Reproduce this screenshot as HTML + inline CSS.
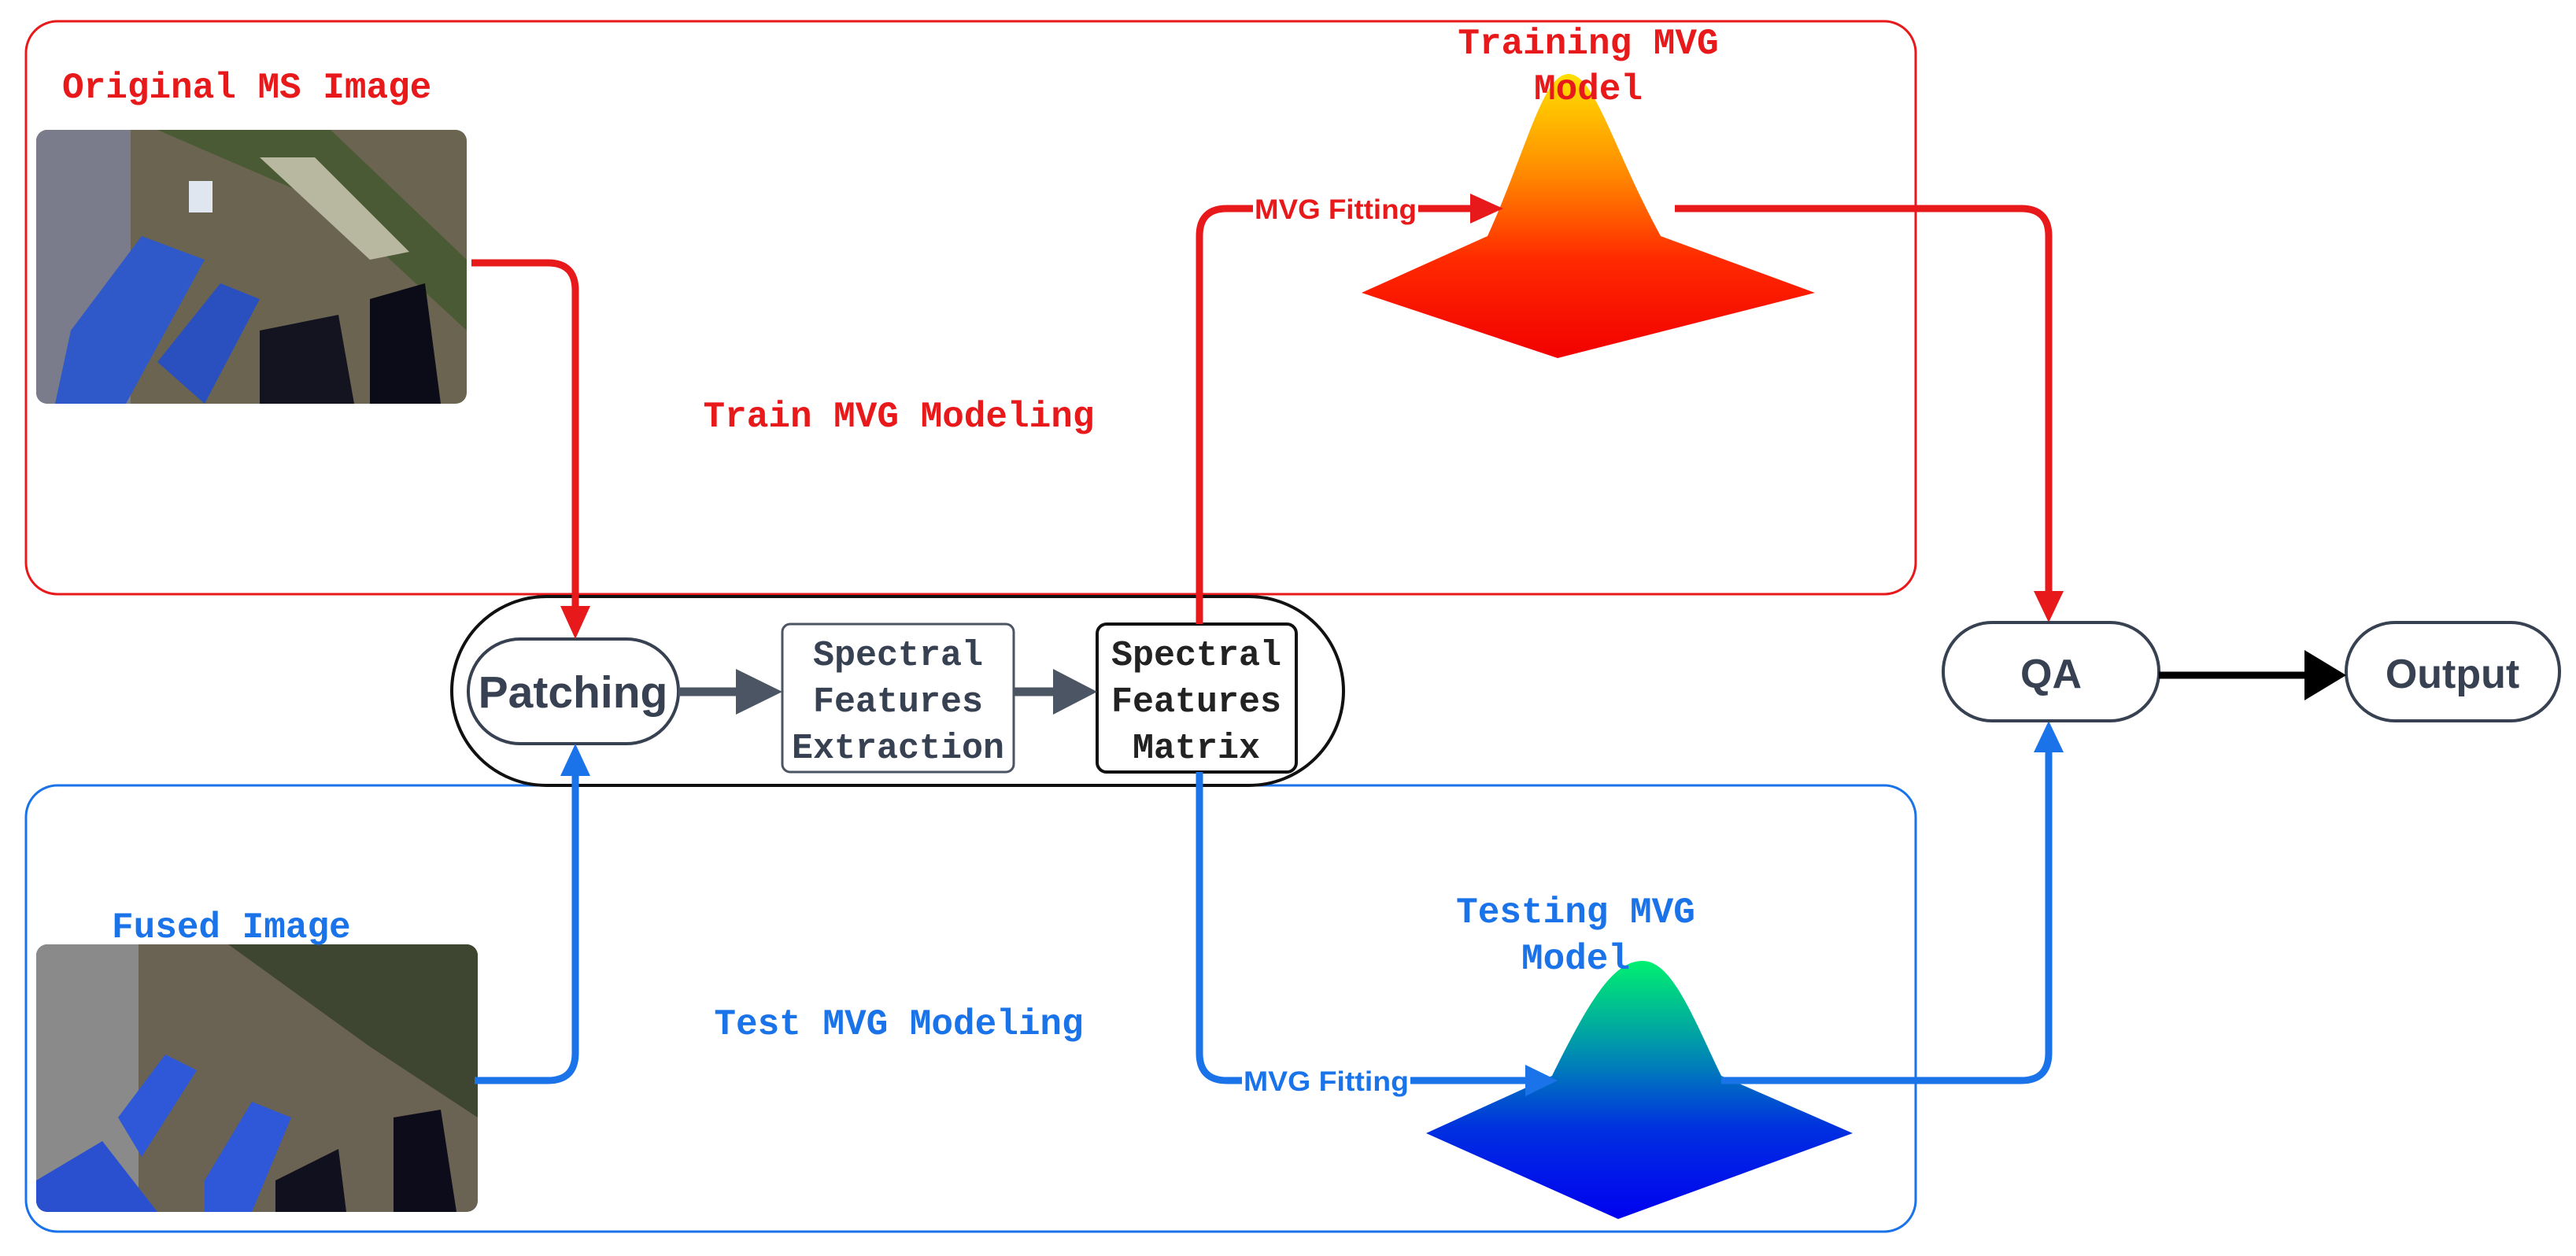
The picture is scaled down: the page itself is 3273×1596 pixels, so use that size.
<!DOCTYPE html>
<html><head><meta charset="utf-8"><style>
html,body{margin:0;padding:0;background:#fff;}
svg{display:block;}
.mono{font-family:"Liberation Mono",monospace;font-weight:bold;}
.sans{font-family:"Liberation Sans",sans-serif;font-weight:bold;}
</style></head><body>
<svg width="3273" height="1596" viewBox="0 0 3273 1596" xmlns="http://www.w3.org/2000/svg">
<defs>
<linearGradient id="gr" x1="0" y1="0" x2="0" y2="1">
<stop offset="0" stop-color="#ffe000"/><stop offset="0.35" stop-color="#ff8a00"/><stop offset="0.65" stop-color="#ff2a00"/><stop offset="1" stop-color="#f20000"/></linearGradient>
<linearGradient id="gb" x1="0" y1="0" x2="0" y2="1">
<stop offset="0" stop-color="#00f070"/><stop offset="0.35" stop-color="#0090b0"/><stop offset="0.65" stop-color="#0030e0"/><stop offset="1" stop-color="#0000f0"/></linearGradient>
<clipPath id="c1"><rect x="46" y="165" width="547" height="348" rx="14"/></clipPath>
<clipPath id="c2"><rect x="46" y="1200" width="561" height="340" rx="14"/></clipPath>
</defs>

<rect x="33" y="27" width="2401" height="728" rx="40" fill="none" stroke="#e8191b" stroke-width="3"/>
<rect x="33" y="998" width="2401" height="567" rx="40" fill="none" stroke="#1a73e8" stroke-width="3"/>

<g clip-path="url(#c1)">
<rect x="46" y="165" width="547" height="348" fill="#6b6450"/>
<rect x="46" y="165" width="120" height="348" fill="#7a7c8c"/>
<polygon points="200,165 420,165 593,330 593,420 420,260" fill="#4a5a35"/>
<polygon points="330,200 400,200 520,320 470,330" fill="#b8b7a0"/>
<polygon points="90,420 180,300 260,330 160,513 70,513" fill="#2f58c8"/>
<polygon points="200,460 280,360 330,380 260,513" fill="#2a50c0"/>
<polygon points="330,420 430,400 450,513 330,513" fill="#141420"/>
<polygon points="470,380 540,360 560,513 470,513" fill="#0c0c18"/>
<rect x="240" y="230" width="30" height="40" fill="#dfe6f0"/>
</g>
<g clip-path="url(#c2)">
<rect x="46" y="1200" width="561" height="340" fill="#6a6252"/>
<rect x="46" y="1200" width="130" height="340" fill="#8a8a8a"/>
<polygon points="290,1200 607,1200 607,1420 470,1330" fill="#3e4632"/>
<polygon points="150,1420 210,1340 250,1360 180,1470" fill="#2f58d8"/>
<polygon points="260,1500 320,1400 370,1420 320,1540 260,1540" fill="#2f58d8"/>
<polygon points="46,1500 130,1450 200,1540 46,1540" fill="#2a50d0"/>
<polygon points="350,1500 430,1460 440,1540 350,1540" fill="#10101e"/>
<polygon points="500,1420 560,1410 580,1540 500,1540" fill="#0c0c1a"/>
</g>

<text x="79" y="124" class="mono" font-size="46" fill="#e8191b">Original MS Image</text>
<text x="1142" y="542" class="mono" font-size="46" fill="#e8191b" text-anchor="middle">Train MVG Modeling</text>
<text x="142" y="1191" class="mono" font-size="46" fill="#1a73e8">Fused Image</text>
<text x="1142" y="1314" class="mono" font-size="46" fill="#1a73e8" text-anchor="middle">Test MVG Modeling</text>

<path d="M1730,372 L1890,300 C1940,190 1960,94 1993,94 C2026,94 2050,190 2110,300 L2306,372 L1979,455 Z" fill="url(#gr)"/>
<path d="M1812,1440 L1972,1367 C2020,1270 2050,1221 2087,1221 C2124,1221 2150,1290 2187,1367 L2354,1440 L2056,1549 Z" fill="url(#gb)"/>
<text x="2018" y="68" class="mono" font-size="46" fill="#e8191b" text-anchor="middle">Training MVG</text>
<text x="2018" y="126" class="mono" font-size="46" fill="#e8191b" text-anchor="middle">Model</text>
<text x="2002" y="1172" class="mono" font-size="46" fill="#1a73e8" text-anchor="middle">Testing MVG</text>
<text x="2002" y="1231" class="mono" font-size="46" fill="#1a73e8" text-anchor="middle">Model</text>

<rect x="574" y="758" width="1133" height="240" rx="120" fill="none" stroke="#111" stroke-width="4"/>
<rect x="595" y="812" width="267" height="133" rx="66" fill="#fff" stroke="#374151" stroke-width="4"/>
<text x="728" y="899" class="sans" font-size="57" fill="#374151" text-anchor="middle">Patching</text>
<rect x="994" y="793" width="294" height="188" rx="10" fill="#fff" stroke="#4b5563" stroke-width="3"/>
<text class="mono" font-size="45" fill="#374151" text-anchor="middle"><tspan x="1141" y="845">Spectral</tspan><tspan x="1141" y="904">Features</tspan><tspan x="1141" y="963">Extraction</tspan></text>
<rect x="1394" y="793" width="253" height="188" rx="12" fill="#fff" stroke="#111" stroke-width="4"/>
<text class="mono" font-size="45" fill="#222" text-anchor="middle"><tspan x="1520" y="845">Spectral</tspan><tspan x="1520" y="904">Features</tspan><tspan x="1520" y="963">Matrix</tspan></text>

<line x1="862" y1="879" x2="940" y2="879" stroke="#4b5563" stroke-width="11"/>
<polygon points="935,850 994,879 935,908" fill="#4b5563"/>
<line x1="1288" y1="879" x2="1340" y2="879" stroke="#4b5563" stroke-width="11"/>
<polygon points="1338,850 1394,879 1338,908" fill="#4b5563"/>

<g fill="none" stroke="#e8191b" stroke-width="9">
<path d="M599,334 H696 Q731,334 731,369 V775"/>
<path d="M1524,793 V300 Q1524,265 1559,265 H1870"/>
<path d="M2128,265 H2568 Q2603,265 2603,300 V755"/>
</g>
<polygon points="712,770 750,770 731,812" fill="#e8191b"/>
<polygon points="1868,246 1910,265 1868,284" fill="#e8191b"/>
<polygon points="2584,751 2622,751 2603,791" fill="#e8191b"/>
<rect x="1592" y="245" width="210" height="40" fill="#fff"/>
<text x="1594" y="278" class="sans" font-size="35" fill="#e8191b" textLength="206" lengthAdjust="spacingAndGlyphs">MVG Fitting</text>

<g fill="none" stroke="#1a73e8" stroke-width="9">
<path d="M603,1373 H696 Q731,1373 731,1338 V985"/>
<path d="M1524,981 V1338 Q1524,1373 1559,1373 H1940"/>
<path d="M2187,1373 H2568 Q2603,1373 2603,1338 V955"/>
</g>
<polygon points="712,986 750,986 731,945" fill="#1a73e8"/>
<polygon points="1938,1353 1979,1373 1938,1393" fill="#1a73e8"/>
<polygon points="2584,956 2622,956 2603,916" fill="#1a73e8"/>
<rect x="1578" y="1353" width="214" height="40" fill="#fff"/>
<text x="1580" y="1386" class="sans" font-size="35" fill="#1a73e8" textLength="210" lengthAdjust="spacingAndGlyphs">MVG Fitting</text>

<rect x="2469" y="791" width="274" height="125" rx="62" fill="#fff" stroke="#374151" stroke-width="4"/>
<text x="2606" y="874" class="sans" font-size="52" fill="#374151" text-anchor="middle">QA</text>
<rect x="2981" y="791" width="271" height="125" rx="62" fill="#fff" stroke="#374151" stroke-width="4"/>
<text x="3116" y="874" class="sans" font-size="52" fill="#374151" text-anchor="middle">Output</text>
<line x1="2743" y1="858" x2="2935" y2="858" stroke="#000" stroke-width="9"/>
<polygon points="2928,826 2981,858 2928,890" fill="#000"/>
</svg>
</body></html>
